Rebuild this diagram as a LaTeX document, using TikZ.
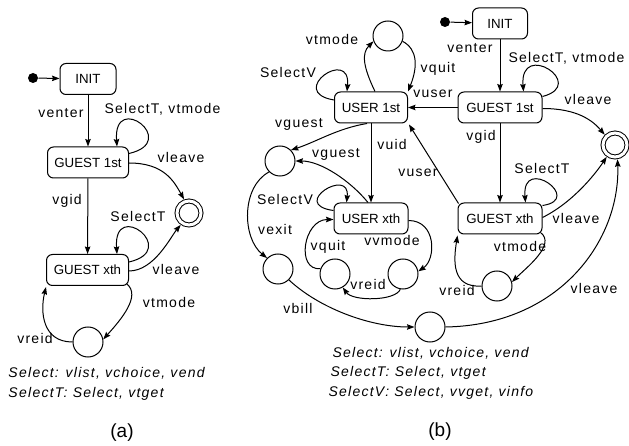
\documentclass[tikz,border=0pt]{standalone}
\usepackage{fontspec}
\setmainfont{Liberation Sans}
\newfontfamily\lblfont{Liberation Sans}[LetterSpace=9]
\usetikzlibrary{arrows.meta,calc}
\begin{document}
\begin{tikzpicture}[x=1pt,y=-1pt,line width=1pt,
  >={Stealth[length=7.5pt,width=5.5pt,inset=1pt]},
  st/.style={draw,rounded corners=6pt,minimum height=31pt,inner sep=0pt,font=\fontsize{13.3}{15}\selectfont},
  circ/.style={draw,circle,minimum size=30pt,inner sep=0pt},
  fin/.style={draw,circle,minimum size=24pt,inner sep=0pt,double,double distance=3pt,outer sep=2.5pt},
  dot/.style={fill,circle,minimum size=10pt,inner sep=0pt},
  lbl/.style={font=\lblfont\fontsize{14}{16}\selectfont,inner sep=0pt},
  note/.style={font=\lblfont\itshape\fontsize{14}{16}\selectfont,anchor=west,inner sep=0pt},
  figcap/.style={font=\fontsize{19}{21}\selectfont,inner sep=0pt}]
\useasboundingbox (0,0) rectangle (629,446);
% ---------------- (a) ----------------
\node[dot] (a0) at (33,78) {};
\node[st,minimum width=56pt] (ainit) at (88,79) {INIT};
\node[st,minimum width=81pt] (ag1) at (88,162.5) {GUEST 1st};
\node[fin] (afin) at (189,213) {};
\node[st,minimum width=82pt] (agx) at (87.5,270) {GUEST xth};
\node[circ] (ac) at (88,342) {};
\draw[->] (a0) -- (ainit);
\draw[->] (ainit) -- (ag1);
\draw[->] ($(ag1.north east)+(0,7)$) .. controls +(52,-12) and +(-4,-56) .. ($(ag1.north east)+(-12,0)$);
\draw[->] ($(ag1.east)+(0,0.5)$) .. controls +(35,0) and +(-10,-18) .. (afin.110);
\draw[->] (ag1) -- (agx);
\draw[->] ($(agx.north east)+(0,8)$) .. controls +(52,-12) and +(-4,-56) .. ($(agx.north east)+(-12,0)$);
\draw[->] ($(agx.east)+(0,1)$) .. controls +(25,0) and +(-10,12) .. (afin.235);
\draw[->] ($(agx.south east)+(-2,-2)$) .. controls +(14,12) and +(18,-20) .. (ac.10);
\draw[->] (ac.west) .. controls +(-30,0) and +(-6,25) .. ($(agx.south west)+(0,1)$);
\node[lbl] at (61,113) {venter};
\node[lbl,anchor=west] at (104,109) {SelectT, vtmode};
\node[lbl] at (181,157) {vleave};
\node[lbl] at (67,201) {vgid};
\node[lbl] at (138,216) {SelectT};
\node[lbl] at (176,269) {vleave};
\node[lbl] at (169,302) {vtmode};
\node[lbl] at (35,338) {vreid};
\node[note] at (8,373) {Select: vlist, vchoice, vend};
\node[note] at (8,394) {SelectT: Select, vtget};
\node[figcap] at (122,433) {(a)};
% ---------------- (b) ----------------
\node[dot] (b0) at (445,22) {};
\node[st,minimum width=55pt] (binit) at (500,23.5) {INIT};
\node[st,minimum width=84pt] (bg1) at (500,107.5) {GUEST 1st};
\node[fin] (bfin) at (615,145) {};
\node[st,minimum width=73pt] (bu1) at (371,107.5) {USER 1st};
\node[circ] (btop) at (388,36) {};
\node[circ] (bl) at (280,161) {};
\node[st,minimum width=74pt] (bux) at (371,218.5) {USER xth};
\node[circ] (bq) at (335,274) {};
\node[circ] (br) at (403,274) {};
\node[circ] (bex) at (278,269) {};
\node[circ] (bbot) at (430,327) {};
\node[st,minimum width=84pt] (bgx) at (500,218.5) {GUEST xth};
\node[circ] (brd) at (497,286) {};
\draw[->] (b0) -- (binit);
\draw[->] (binit) -- (bg1);
\draw[->] ($(bg1.north east)+(0,5)$) .. controls +(46,-12) and +(-4,-52) .. ($(bg1.north east)+(-19,0)$);
\draw[->] ($(bg1.east)+(0,1)$) .. controls +(35,0) and +(-12,-14) .. (bfin.135);
\draw[->] (bg1) -- (bu1);
\draw[->] (bg1) -- (bgx);
\draw[->] ($(bgx.north east)+(0,3)$) .. controls +(42,-6) and +(-4,-48) .. ($(bgx.north east)+(-17,0)$);
\draw[->] ($(bgx.east)+(0,-1)$) .. controls +(30,-15) and +(-12,18) .. (bfin.235);
\draw[->] (bbot.east) .. controls +(115,-2) and +(3,80) .. (bfin.280);
\draw[->] ($(bgx.north west)+(1,1)$) -- ($(bu1.south east)+(1,1)$);
\draw[->] ($(bgx.south east)+(-2,-2)$) .. controls +(16,12) and +(14,-14) .. (brd.15);
\draw[->] (brd.west) .. controls +(-30,2) and +(-4,25) .. ($(bgx.south west)+(0,1)$);
\draw[->] ($(bu1.north)+(4,0)$) .. controls +(-12,-25) and +(-12,12) .. (btop.200);
\draw[->] (btop.-20) .. controls +(15,8) and +(10,-25) .. (bu1.north east);
\draw[->] ($(bu1.west)+(0,-7.5)$) .. controls +(-48,-8) and +(4,-45) .. ($(bu1.north west)+(13,0)$);
\draw[->] ($(bu1.south)+(-4,0)$) .. controls +(-30,5) and +(25,-8) .. (bl.45);
\draw[->] ($(bux.north)+(-3,0)$) .. controls +(-18,-22) and +(25,0) .. (bl.east);
\draw[->] (bu1) -- (bux);
\draw[->] ($(bux.west)+(0,-8)$) .. controls +(-45,-6) and +(4,-36) .. ($(bux.north west)+(13,0)$);
\draw[->] (bl.225) .. controls +(-28,15) and +(-25,-20) .. (bex.135);
\draw[->] (bex.-45) .. controls +(30,28) and +(-45,0) .. (bbot.west);
\draw[->] ($(bux.east)+(0,2)$) .. controls +(28,0) and +(18,-12) .. (br.10);
\draw[->] (br.-100) .. controls +(-5,12) and +(10,14) .. (bq.-60);
\draw[->] (bq.160) .. controls +(-25,2) and +(-30,0) .. ($(bux.west)+(0,1)$);
\node[lbl] at (332,39) {vtmode};
\node[lbl] at (438,69) {vquit};
\node[lbl] at (288,72) {SelectV};
\node[lbl] at (433,94) {vuser};
\node[lbl] at (299,124) {vguest};
\node[lbl] at (336,154) {vguest};
\node[lbl] at (392,144) {vuid};
\node[lbl] at (418,173) {vuser};
\node[lbl] at (470,48) {venter};
\node[lbl,anchor=west] at (508,58) {SelectT, vtmode};
\node[lbl] at (588,99) {vleave};
\node[lbl] at (481,137) {vgid};
\node[lbl] at (542,168) {SelectT};
\node[lbl] at (576,218) {vleave};
\node[lbl] at (520,246) {vtmode};
\node[lbl] at (457,290) {vreid};
\node[lbl] at (594,288) {vleave};
\node[lbl] at (285,199) {SelectV};
\node[lbl] at (275,229) {vexit};
\node[lbl] at (328,247) {vquit};
\node[lbl] at (392,240) {vvmode};
\node[lbl] at (368,284) {vreid};
\node[lbl] at (298,308) {vbill};
\node[note] at (332,353) {Select: vlist, vchoice, vend};
\node[note] at (330,373) {SelectT: Select, vtget};
\node[note] at (328,393) {SelectV: Select, vvget, vinfo};
\node[figcap] at (440,432) {(b)};
\end{tikzpicture}
\end{document}
